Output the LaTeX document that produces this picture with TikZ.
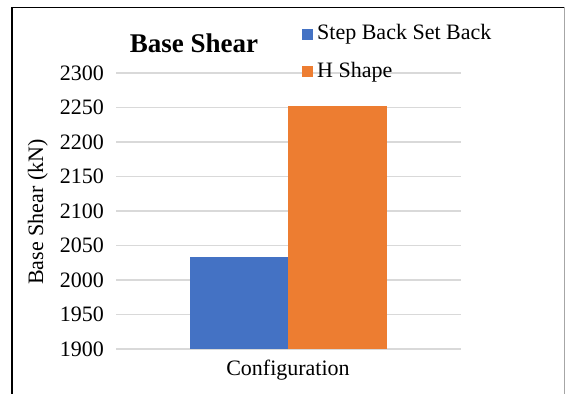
\documentclass[tikz,border=0pt]{standalone}
\usepackage{fontspec}
\setmainfont{Liberation Serif}
\definecolor{seriesA}{HTML}{4472C4}
\definecolor{seriesB}{HTML}{ED7D31}
\definecolor{gridgray}{HTML}{D9D9D9}
\begin{document}
\begin{tikzpicture}[x=1pt,y=-1pt,
  axislabel/.style={font=\fontsize{22}{26}\selectfont, inner sep=0pt},
  charttitle/.style={font=\fontsize{27}{32}\selectfont\bfseries, inner sep=0pt},
  gridline/.style={draw=gridgray, line width=1.3pt},
  legendkey/.style={inner sep=0pt, minimum size=11pt, draw=none}]
  % value-to-pixel mapping: 1900 at y=349, 0.69 px per kN
  \def\ymap#1{349-(#1-1900)*0.69}
  \useasboundingbox (0,0) rectangle (565,394);
  \fill[white] (0,0) rectangle (565,394);
  % chart area border
  \draw[black, line width=1.2pt] (11.5,7.6) -- (564,7.6);
  \draw[black, line width=2pt] (11.5,7) -- (11.5,394);
  \draw[gray!70, line width=1pt] (564,7) -- (564,394);
  % gridlines and tick labels
  \foreach \v in {1900,1950,...,2300} {
    \draw[gridline] (116,{\ymap{\v}}) -- (461,{\ymap{\v}});
    \node[axislabel, anchor=east] (tick\v) at (104,{\ymap{\v}}) {\v};
  }
  % bars
  \fill[seriesA] (190,{\ymap{2033}}) rectangle (288,349);
  \fill[seriesB] (288,{\ymap{2252}}) rectangle (387,349);
  % titles
  \node[charttitle, anchor=base] (title) at (194,52) {Base Shear};
  \node[axislabel, anchor=base] (xlabel) at (288,375) {Configuration};
  \node[axislabel, anchor=base, rotate=90] (ylabel) at (43,212) {Base Shear (kN)};
  % legend
  \node[legendkey, fill=seriesA] (keyA) at (307.5,34) {};
  \node[axislabel, anchor=base west] (labA) at (317,39.5) {Step Back Set Back};
  \node[legendkey, fill=seriesB] (keyB) at (307.5,71) {};
  \node[axislabel, anchor=base west] (labB) at (317,77.5) {H Shape};
\end{tikzpicture}
\end{document}
